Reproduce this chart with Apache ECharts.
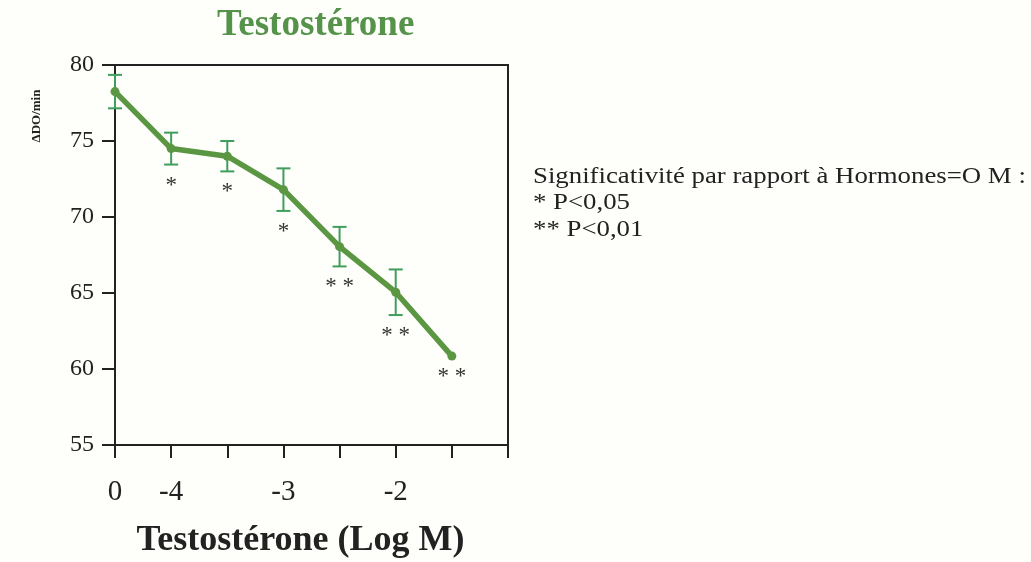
<!DOCTYPE html>
<html>
<head>
<meta charset="utf-8">
<script src="https://cdn.jsdelivr.net/npm/echarts@6/dist/echarts.min.js"></script>
<style>
html,body{margin:0;padding:0;background:#fefefb;}
#chart{width:1031px;height:562px;}
</style>
</head>
<body>
<div id="chart"></div>
<script>
// Concentrations (log M); first is the control (0 M); last slot is the empty axis end
var categories = ['0', '-4', '-3.5', '-3', '-2.5', '-2', '-1.5', 'end'];
var tickLabels = ['0', '-4', '', '-3', '', '-2', '', ''];
var values = [78.25, 74.5, 74.0, 71.8, 68.05, 65.05, 60.85];
var errors = [1.1, 1.05, 1.0, 1.4, 1.3, 1.5, 0];
var signif = ['', '*', '*', '*', '* *', '* *', '* *'];
var yTicks = [55, 60, 65, 70, 75, 80];
var legendLines = ['Significativité par rapport à Hormones=O M :', '* P<0,05', '** P<0,01'];

var serif = '"Liberation Serif", "DejaVu Serif", serif';
var lineColor = '#5b9743';
var errColor = '#3f9e5c';

var errData = values.map(function (v, i) { return [i, v, errors[i], signif[i]]; });

var chart = echarts.init(document.getElementById('chart'));
chart.setOption({
  backgroundColor: '#fefefb',
  animation: false,
  title: {
    text: 'Testostérone',
    left: 212,
    top: 2,
    textStyle: { fontFamily: serif, fontSize: 37, fontWeight: 'bold', color: '#55924a' }
  },
  grid: {
    left: 115, top: 65, width: 393, height: 380,
    outerBoundsMode: 'none',
    containLabel: false,
    show: true, borderColor: '#222', borderWidth: 2, backgroundColor: 'transparent'
  },
  xAxis: {
    type: 'category',
    data: categories,
    boundaryGap: false,
    axisLine: { lineStyle: { color: '#222', width: 2 } },
    axisTick: { show: true, inside: false, length: 13, lineStyle: { color: '#222', width: 2 }, alignWithLabel: true },
    axisLabel: {
      interval: 0, margin: 33, fontFamily: serif, fontSize: 29, color: '#222',
      formatter: function (v, i) { return tickLabels[i]; }
    },
    name: 'Testostérone (Log M)',
    nameLocation: 'middle',
    nameGap: 78,
    nameTextStyle: { fontFamily: serif, fontSize: 36, fontWeight: 'bold', color: '#222', padding: [0, 22, 0, 0] }
  },
  yAxis: {
    type: 'value',
    min: yTicks[0], max: yTicks[yTicks.length - 1], interval: 5,
    splitLine: { show: false },
    axisLine: { show: true, lineStyle: { color: '#222', width: 2 } },
    axisTick: { show: true, inside: false, length: 13, lineStyle: { color: '#222', width: 2 } },
    axisLabel: { margin: 21, fontFamily: serif, fontSize: 24, color: '#222' }
  },
  graphic: [
    {
      type: 'text', x: 37, y: 116, rotation: Math.PI / 2,
      style: { text: 'ΔDO/min', font: 'bold 13px ' + serif, fill: '#222', textAlign: 'center', textVerticalAlign: 'middle' }
    },
    {
      type: 'group', x: 533, y: 165, scaleX: 1.165,
      children: legendLines.map(function (t, i) {
        return { type: 'text', x: 0, y: i * 26.5, style: { text: t, font: '23px ' + serif, fill: '#222' } };
      })
    }
  ],
  series: [
    {
      type: 'custom',
      data: errData,
      z: 1,
      renderItem: function (params, api) {
        var i = api.value(0), v = api.value(1), e = api.value(2);
        var top = api.coord([i, v + e]);
        var bot = api.coord([i, v - e]);
        var x = top[0], hw = 7;
        var st = { stroke: errColor, lineWidth: 2 };
        var children = [];
        if (e > 0) {
          children.push({ type: 'line', shape: { x1: x, y1: top[1], x2: x, y2: bot[1] }, style: st });
          children.push({ type: 'line', shape: { x1: x - hw, y1: top[1], x2: x + hw, y2: top[1] }, style: st });
          children.push({ type: 'line', shape: { x1: x - hw, y1: bot[1], x2: x + hw, y2: bot[1] }, style: st });
        }
        var sig = errData[params.dataIndex][3];
        if (sig) {
          children.push({
            type: 'text', x: x, y: bot[1] + 21,
            style: { text: sig, font: '23px ' + serif, fill: '#333', textAlign: 'center', textVerticalAlign: 'middle' }
          });
        }
        return { type: 'group', children: children };
      }
    },
    {
      type: 'line',
      data: values,
      z: 2,
      symbol: 'circle',
      symbolSize: 9,
      lineStyle: { color: lineColor, width: 5.5 },
      itemStyle: { color: lineColor }
    }
  ]
});
</script>
</body>
</html>
